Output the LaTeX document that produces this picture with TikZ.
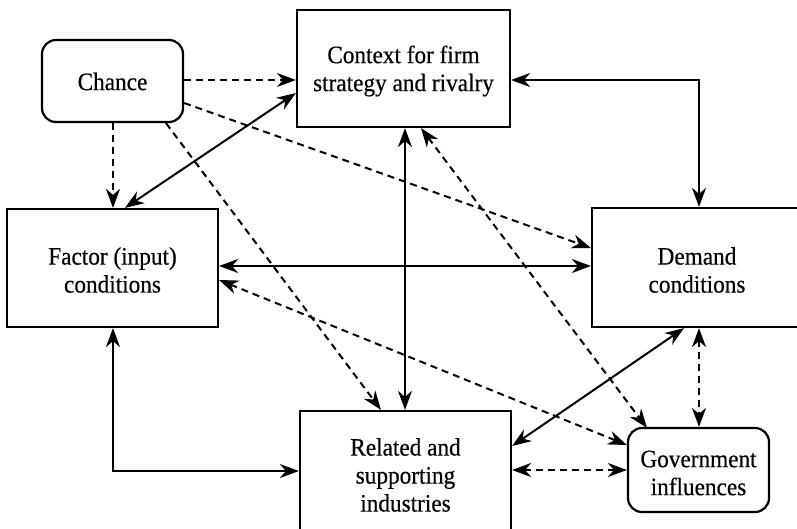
\documentclass[tikz,border=0pt]{standalone}
\usepackage{fontspec}
\setmainfont{Liberation Serif}[FakeStretch=0.93,FakeBold=0.4]
\usetikzlibrary{arrows.meta}
\begin{document}
\begin{tikzpicture}[x=1pt,y=-1pt,
  box/.style={draw, line width=2.2pt, inner sep=0pt},
  rbox/.style={box, rounded corners=14pt},
  lbl/.style={align=center, font=\fontsize{25}{28}\selectfont},
  link/.style={line width=2pt},
  dlink/.style={link, dash pattern=on 7pt off 5pt},
  tip/.style={-{Stealth[length=19pt,width=14pt,inset=6pt]}},
  tips/.style={{Stealth[length=19pt,width=14pt,inset=6pt]}-{Stealth[length=19pt,width=14pt,inset=6pt]}}]
\useasboundingbox (0,0) rectangle (797,528);
\clip (0,0) rectangle (797,528);
\fill[white] (0,0) rectangle (797,528);

% boxes
\node[rbox, minimum width=141pt, minimum height=82pt] (chance) at (112.5,81) {};
\node[lbl] at (112.5,81.5) {Chance};

\node[box, minimum width=213pt, minimum height=117pt] (ctx) at (403.5,68.5) {};
\node[lbl] at (403.5,71) {Context for firm\\strategy and rivalry};

\node[box, minimum width=211pt, minimum height=118pt] (fac) at (112.5,268) {};
\node[lbl] at (112.5,270) {Factor (input)\\conditions};

\node[box, minimum width=210pt, minimum height=119pt] (dem) at (697,267.5) {};
\node[lbl] at (697,270) {Demand\\conditions};

\node[box, minimum width=211pt, minimum height=126pt] (rel) at (405.5,474) {};
\node[lbl] at (405.5,475) {Related and\\supporting\\industries};

\node[rbox, minimum width=141pt, minimum height=84pt] (gov) at (698.5,470) {};
\node[lbl] at (698.5,473) {Government\\influences};

% anchor points on the box edges
\coordinate (c1) at (chance.east |- 0,80);
\coordinate (c2) at (ctx.west |- 0,80);
\coordinate (c3) at (113,0 |- chance.south);
\coordinate (c4) at (113,0 |- fac.north);
\coordinate (c5) at (chance.east |- 0,103);
\coordinate (c6) at (dem.west |- 0,248);
\coordinate (c7) at (166,0 |- chance.south);
\coordinate (c8) at (381,0 |- rel.north);
\coordinate (f1) at (125,0 |- fac.north);
\coordinate (x1) at (ctx.west |- 0,93);
\coordinate (x2) at (ctx.east |- 0,80);
\coordinate (d1) at (699,0 |- dem.north);
\coordinate (f2) at (fac.east |- 0,266);
\coordinate (d2) at (dem.west |- 0,266);
\coordinate (x3) at (405,0 |- ctx.south);
\coordinate (r1) at (405,0 |- rel.north);
\coordinate (x4) at (421,0 |- ctx.south);
\coordinate (g1) at (647,428);
\coordinate (f3) at (fac.east |- 0,280);
\coordinate (g2) at (gov.west |- 0,445);
\coordinate (d3) at (684,0 |- dem.south);
\coordinate (r2) at (rel.east |- 0,446);
\coordinate (d4) at (699,0 |- dem.south);
\coordinate (g3) at (699,0 |- gov.north);
\coordinate (r3) at (rel.east |- 0,470);
\coordinate (g4) at (gov.west |- 0,470);
\coordinate (f4) at (113,0 |- fac.south);
\coordinate (r4) at (rel.west |- 0,471);

% chance influences
\draw[dlink, tip] (c1) -- (c2);
\draw[dlink, tip] (c3) -- (c4);
\draw[dlink, tip] (c5) -- (c6);
\draw[dlink, tip] (c7) -- (c8);

% diamond links
\draw[link, tips] (f1) -- (x1);
\draw[link, tips] (x2) -| (d1);
\draw[link, tips] (f2) -- (d2);
\draw[link, tips] (x3) -- (r1);
\draw[link, tips] (d3) -- (r2);
\draw[link, tips] (f4) |- (r4);

% government links
\draw[dlink, tips] (x4) -- (g1);
\draw[dlink, tips] (f3) -- (g2);
\draw[dlink, tips] (d4) -- (g3);
\draw[dlink, tips] (r3) -- (g4);
\end{tikzpicture}
\end{document}
